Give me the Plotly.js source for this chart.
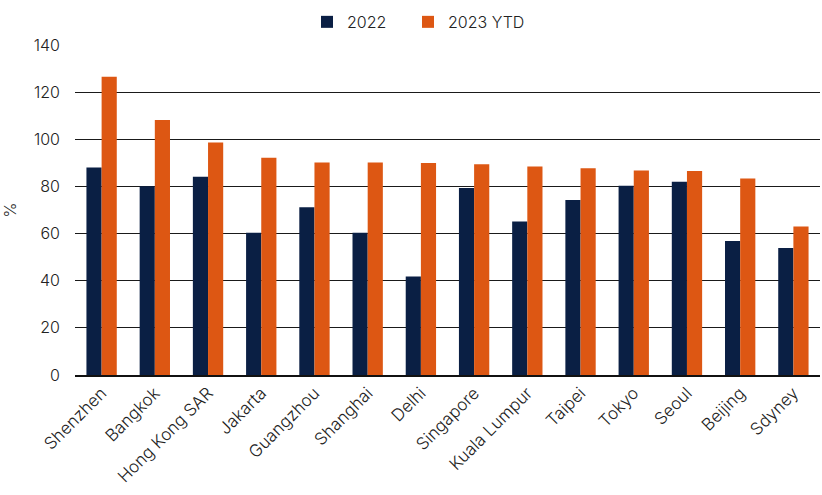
<!DOCTYPE html>
<html>
<head>
<meta charset="utf-8">
<script src="https://cdn.plot.ly/plotly-3.0.1.min.js"></script>
<style>html,body{margin:0;padding:0;background:#fff;}#chart{width:822px;height:495px;}</style>
</head>
<body>
<div id="chart"></div>
<script>
const cities = ["Shenzhen","Bangkok","Hong Kong SAR","Jakarta","Guangzhou","Shanghai","Delhi","Singapore","Kuala Lumpur","Taipei","Tokyo","Seoul","Beijing","Sdyney"];
const values2022 = [88.0,80.1,84.1,60.3,71.2,60.4,41.8,79.3,65.1,74.2,80.3,82.0,56.9,53.9];
const values2023 = [126.5,108.2,98.6,92.2,90.2,90.2,89.9,89.4,88.5,87.7,86.8,86.5,83.4,63.0];
const yTicks = [0,20,40,60,80,100,120,140];

const font = {family: "Inter, Noto Sans, sans-serif", size: 16, color: "#222", weight: 300};
const xfont = Object.assign({}, font, {size: 17});
const data = [
  {type: "bar", name: "2022", x: cities, y: values2022, marker: {color: "#0a1f44"}, legend: "legend"},
  {type: "bar", name: "2023 YTD", x: cities, y: values2023, marker: {color: "#dd5713"}, legend: "legend2"}
];
const legendBase = {orientation: "h", xanchor: "left", xref: "container", yref: "container", y: 0.99, yanchor: "top", font: font, itemwidth: 30};
const layout = {
  width: 822, height: 495,
  margin: {l: 75, r: 2, t: 45, b: 120},
  paper_bgcolor: "#fff", plot_bgcolor: "#fff",
  font: font,
  barmode: "group", bargap: 0.43, bargroupgap: 0,
  showlegend: true,
  legend: Object.assign({}, legendBase, {x: 307/822}),
  legend2: Object.assign({}, legendBase, {x: 408/822}),
  xaxis: {tickangle: -45, showgrid: false, showline: true, linecolor: "#111", linewidth: 1.5, ticks: "", tickfont: xfont, automargin: false},
  yaxis: {range: [0, 140], tickvals: yTicks, showgrid: true, gridcolor: "#1a1a1a", gridwidth: 1.2, zeroline: false, showline: false, ticks: "", ticklabelstandoff: 14, tickfont: font,
    title: {text: "%", font: font, standoff: 30}, automargin: false}
};
Plotly.newPlot("chart", data, layout, {displayModeBar: false, staticPlot: true});
</script>
</body>
</html>
